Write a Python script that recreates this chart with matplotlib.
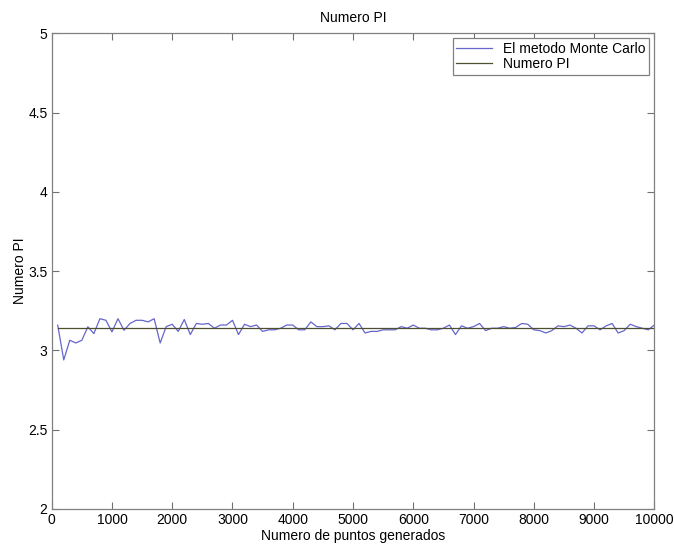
import numpy as np
import matplotlib
matplotlib.use('Agg')
import matplotlib.pyplot as plt

plt.rcParams['font.family'] = ['Liberation Sans', 'DejaVu Sans']

# puntos generados (cada 100) y estimacion de PI por Monte Carlo
n_puntos = list(range(100, 10001, 100))
pi_estimado = [
    3.159, 2.94, 3.064, 3.047, 3.064, 3.149, 3.106, 3.20, 3.19, 3.117,
    3.20, 3.127, 3.17, 3.19, 3.19, 3.18, 3.20, 3.047, 3.15, 3.165,
    3.12, 3.195, 3.10, 3.17, 3.165, 3.17, 3.14, 3.16, 3.16, 3.19,
    3.10, 3.165, 3.15, 3.16, 3.12, 3.13, 3.13, 3.14, 3.16, 3.16,
    3.13, 3.13, 3.18, 3.15, 3.15, 3.155, 3.13, 3.17, 3.17, 3.13,
    3.17, 3.11, 3.12, 3.12, 3.13, 3.13, 3.13, 3.15, 3.14, 3.16,
    3.14, 3.14, 3.13, 3.13, 3.14, 3.16, 3.10, 3.155, 3.14, 3.15,
    3.17, 3.125, 3.14, 3.14, 3.15, 3.14, 3.145, 3.17, 3.165, 3.13,
    3.125, 3.11, 3.125, 3.155, 3.15, 3.16, 3.14, 3.11, 3.155, 3.155,
    3.13, 3.155, 3.17, 3.11, 3.125, 3.165, 3.15, 3.14, 3.13, 3.16,
]
pi_real = [np.pi] * len(n_puntos)

fig = plt.figure(figsize=(6.74, 5.46), dpi=100)
ax = fig.add_axes([0.0767, 0.0678, 0.8941, 0.8712])

ax.plot(n_puntos, pi_estimado, color='#6666cc', lw=0.9, label='El metodo Monte Carlo')
ax.plot(n_puntos, pi_real, color='#4f4f30', lw=0.9, label='Numero PI')

ax.set_xlim(0, 10000)
ax.set_ylim(2, 5)
ax.set_xticks(range(0, 10001, 1000))
ax.set_yticks([2, 2.5, 3, 3.5, 4, 4.5, 5])
ax.set_yticklabels(['2', '2.5', '3', '3.5', '4', '4.5', '5'])

ax.tick_params(direction='in', top=True, right=True, length=5,
               labelsize=10, color='#707070', pad=3)
for s in ax.spines.values():
    s.set_color('#808080')
    s.set_linewidth(0.9)

ax.set_title('Numero PI', fontsize=10, pad=8)
ax.set_xlabel('Numero de puntos generados', fontsize=10, labelpad=1)
ax.set_ylabel('Numero PI', fontsize=10, labelpad=1)

leg = ax.legend(loc='upper right', fontsize=10, fancybox=False, framealpha=1,
                edgecolor='#808080', borderaxespad=0.35, handlelength=2.6,
                borderpad=0.25, labelspacing=0.1, handletextpad=0.8)
leg.get_frame().set_linewidth(0.9)

fig.savefig('out.png', dpi=100)
